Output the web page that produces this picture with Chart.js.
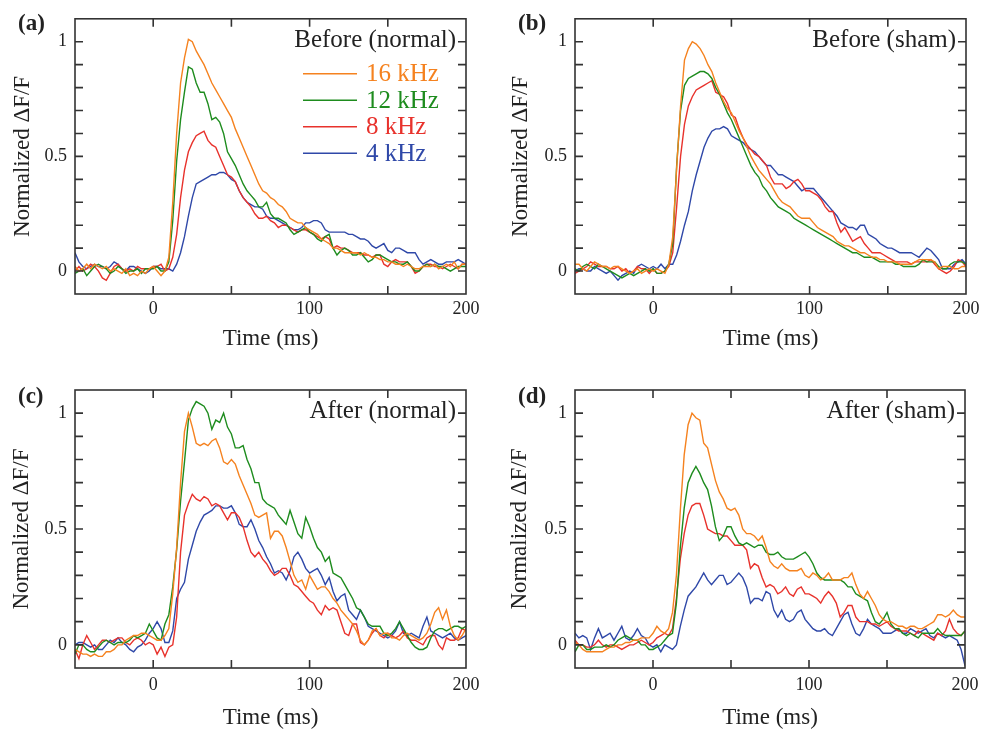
<!DOCTYPE html>
<html><head><meta charset="utf-8">
<script src="https://cdn.jsdelivr.net/npm/chart.js@4.4.0/dist/chart.umd.min.js"></script>
<style>
html,body{margin:0;padding:0;background:#fff;}
#wrap{position:relative;width:990px;height:729px;overflow:hidden;}
canvas{position:absolute;}
</style></head><body>
<div id="wrap">
<canvas id="pa" width="495" height="365" style="left:0;top:0"></canvas>
<canvas id="pb" width="495" height="365" style="left:495px;top:0"></canvas>
<canvas id="pc" width="495" height="364" style="left:0;top:365px"></canvas>
<canvas id="pd" width="495" height="364" style="left:495px;top:365px"></canvas>
</div>
<script>
const times = [-50,-47.5,-45,-42.5,-40,-37.5,-35,-32.5,-30,-27.5,
-25,-22.5,-20,-17.5,-15,-12.5,-10,-7.5,-5,-2.5,
0,2.5,5,7.5,10,12.5,15,17.5,20,22.5,
25,27.5,30,32.5,35,37.5,40,42.5,45,47.5,
50,52.5,55,57.5,60,62.5,65,67.5,70,72.5,
75,77.5,80,82.5,85,87.5,90,92.5,95,97.5,
100,102.5,105,107.5,110,112.5,115,117.5,120,122.5,
125,127.5,130,132.5,135,137.5,140,142.5,145,147.5,
150,152.5,155,157.5,160,162.5,165,167.5,170,172.5,
175,177.5,180,182.5,185,187.5,190,192.5,195,197.5,
200];

const seriesLabels = ['16 kHz','12 kHz','8 kHz','4 kHz'];
const seriesColors = ['#f5821f','#1e8c1e','#e8322c','#2f48a8'];
const panelTags = ['(a)','(b)','(c)','(d)'];
const panelTitles = ['Before (normal)','Before (sham)','After (normal)','After (sham)'];
const xTitle = 'Time (ms)';
const yTitle = 'Normalized \u0394F/F';
const xTickLabels = [0,100,200];
const yTickLabels = [0,0.5,1];
const xTickMarks = [0,50,100,150];
const yTickMarks = [0,0.1,0.2,0.3,0.4,0.5,0.6,0.7,0.8,0.9,1];

// (a) Before (normal)
const a16 = [0.02,0.00,0.01,0.03,0.01,0.03,0.02,0.01,0.02,0.00,
0.01,0.00,-0.01,0.01,-0.02,-0.01,-0.02,0.00,-0.01,0.01,
0.02,0.00,-0.02,0.00,0.06,0.30,0.60,0.82,0.93,1.01,
1.00,0.96,0.93,0.90,0.86,0.82,0.79,0.76,0.73,0.70,
0.67,0.62,0.58,0.54,0.50,0.46,0.42,0.38,0.35,0.34,
0.32,0.31,0.29,0.28,0.26,0.23,0.22,0.21,0.21,0.19,
0.18,0.17,0.16,0.14,0.13,0.12,0.10,0.10,0.09,0.08,
0.08,0.08,0.08,0.07,0.08,0.07,0.06,0.06,0.05,0.05,
0.04,0.04,0.03,0.03,0.02,0.03,0.02,0.01,0.01,0.02,
0.02,0.02,0.03,0.01,0.02,0.03,0.02,0.04,0.01,0.03,
0.03];
const a12 = [-0.01,0.00,0.01,-0.02,0.00,0.02,0.03,0.02,0.01,-0.01,
0.00,0.02,0.01,-0.01,0.00,0.00,0.01,-0.01,0.01,0.01,
0.01,0.02,0.00,0.00,0.04,0.22,0.48,0.66,0.78,0.89,
0.88,0.82,0.78,0.78,0.73,0.66,0.67,0.65,0.60,0.52,
0.49,0.46,0.42,0.38,0.35,0.33,0.31,0.28,0.28,0.30,
0.25,0.23,0.23,0.22,0.21,0.18,0.16,0.17,0.18,0.19,
0.17,0.16,0.14,0.13,0.15,0.16,0.10,0.07,0.09,0.10,
0.09,0.07,0.07,0.08,0.06,0.04,0.05,0.07,0.07,0.06,
0.05,0.04,0.04,0.03,0.03,0.04,0.02,0.00,0.00,0.02,
0.03,0.02,0.03,0.02,0.02,0.01,0.00,0.01,0.02,0.02,
0.02];
const a8 = [0.00,0.02,0.00,0.01,0.03,0.02,0.00,-0.03,-0.04,-0.01,
0.02,0.03,0.01,0.00,0.01,0.00,0.02,0.01,0.01,0.01,
0.02,0.02,0.03,0.00,0.01,0.06,0.16,0.32,0.44,0.52,
0.56,0.59,0.60,0.61,0.57,0.55,0.54,0.50,0.46,0.42,
0.41,0.39,0.35,0.32,0.30,0.28,0.25,0.23,0.23,0.24,
0.22,0.21,0.19,0.20,0.20,0.19,0.18,0.17,0.18,0.18,
0.17,0.16,0.15,0.14,0.15,0.14,0.10,0.11,0.10,0.10,
0.09,0.08,0.08,0.08,0.07,0.07,0.06,0.07,0.07,0.03,
0.02,0.04,0.05,0.04,0.04,0.04,0.02,-0.01,0.00,0.02,
0.03,0.03,0.02,0.02,0.01,0.02,0.03,0.02,0.01,0.03,
0.03];
const a4 = [0.08,0.04,0.02,0.01,0.02,0.03,0.02,0.02,0.01,0.02,
0.04,0.03,0.01,0.00,0.02,0.02,0.01,0.00,-0.01,0.00,
0.02,0.02,0.01,0.01,0.01,0.00,0.03,0.08,0.15,0.24,
0.32,0.38,0.39,0.40,0.41,0.42,0.42,0.43,0.43,0.42,
0.40,0.39,0.35,0.32,0.30,0.29,0.28,0.28,0.27,0.24,
0.23,0.23,0.22,0.21,0.20,0.19,0.18,0.18,0.19,0.21,
0.21,0.22,0.22,0.21,0.18,0.17,0.17,0.17,0.17,0.17,
0.16,0.16,0.15,0.14,0.14,0.13,0.11,0.10,0.11,0.12,
0.09,0.08,0.10,0.10,0.09,0.08,0.08,0.08,0.05,0.03,
0.04,0.05,0.04,0.03,0.03,0.04,0.04,0.04,0.05,0.04,
0.03];

// (b) Before (sham)
const b16 = [0.03,0.03,0.01,0.00,0.02,0.04,0.03,0.02,0.02,0.01,
0.02,0.02,0.01,0.00,-0.01,0.00,0.01,-0.01,0.00,0.01,
0.00,0.01,0.00,-0.01,0.03,0.15,0.45,0.72,0.92,0.97,
1.00,0.99,0.97,0.94,0.90,0.87,0.82,0.78,0.74,0.71,
0.69,0.65,0.61,0.58,0.54,0.50,0.47,0.44,0.42,0.40,
0.38,0.35,0.32,0.30,0.29,0.28,0.26,0.24,0.23,0.23,
0.23,0.21,0.19,0.18,0.17,0.16,0.15,0.13,0.12,0.11,
0.11,0.10,0.09,0.08,0.08,0.07,0.06,0.06,0.05,0.05,
0.04,0.04,0.04,0.03,0.03,0.03,0.03,0.04,0.05,0.05,
0.05,0.05,0.04,0.01,0.02,0.02,0.02,0.01,0.01,0.02,
0.02];
const b12 = [0.01,0.00,0.02,0.03,0.02,0.01,0.03,0.02,0.01,0.00,
-0.01,-0.02,-0.03,-0.02,-0.01,-0.02,-0.01,0.00,0.01,0.00,
0.01,-0.01,-0.01,0.00,0.03,0.12,0.46,0.70,0.81,0.84,
0.85,0.86,0.87,0.87,0.86,0.84,0.80,0.77,0.73,0.69,
0.66,0.62,0.58,0.54,0.50,0.46,0.43,0.41,0.37,0.35,
0.32,0.30,0.28,0.27,0.26,0.25,0.23,0.22,0.21,0.20,
0.19,0.18,0.17,0.16,0.15,0.14,0.13,0.12,0.11,0.10,
0.09,0.08,0.08,0.07,0.06,0.06,0.06,0.05,0.04,0.04,
0.04,0.04,0.03,0.03,0.02,0.02,0.02,0.02,0.03,0.05,
0.04,0.04,0.04,0.02,0.01,0.01,0.03,0.04,0.04,0.04,
0.03];
const b8 = [-0.01,0.00,0.01,0.02,0.04,0.03,0.02,0.02,0.02,0.01,
0.01,0.02,0.00,0.01,-0.01,0.00,0.02,0.01,0.01,-0.01,
0.01,-0.01,-0.01,0.00,0.02,0.08,0.28,0.50,0.64,0.72,
0.76,0.79,0.80,0.81,0.82,0.83,0.78,0.77,0.76,0.73,
0.68,0.67,0.62,0.58,0.55,0.53,0.51,0.50,0.48,0.46,
0.41,0.38,0.38,0.38,0.36,0.37,0.39,0.40,0.38,0.35,
0.35,0.34,0.33,0.31,0.28,0.26,0.26,0.21,0.17,0.19,
0.16,0.13,0.14,0.15,0.12,0.10,0.08,0.08,0.08,0.07,
0.06,0.05,0.04,0.04,0.04,0.04,0.03,0.04,0.04,0.04,
0.04,0.05,0.03,0.01,0.00,-0.01,0.00,0.02,0.05,0.04,
0.02];
const b4 = [0.00,0.01,0.01,0.00,0.00,0.02,0.01,0.00,-0.01,0.00,
-0.02,-0.04,-0.02,-0.01,0.00,-0.01,0.02,0.03,0.02,0.01,
0.02,0.01,0.03,0.01,0.03,0.03,0.07,0.13,0.20,0.26,
0.35,0.42,0.48,0.54,0.58,0.61,0.62,0.62,0.63,0.62,
0.59,0.58,0.57,0.56,0.54,0.53,0.52,0.50,0.48,0.46,
0.46,0.44,0.42,0.42,0.41,0.40,0.39,0.37,0.35,0.36,
0.36,0.36,0.34,0.32,0.30,0.28,0.26,0.24,0.21,0.20,
0.19,0.19,0.18,0.20,0.20,0.16,0.15,0.14,0.12,0.11,
0.10,0.10,0.09,0.08,0.08,0.08,0.08,0.07,0.06,0.08,
0.10,0.09,0.07,0.05,0.01,0.01,0.01,0.03,0.04,0.05,
0.03];

// (c) After (normal)
const c16 = [-0.02,-0.03,-0.04,-0.04,-0.05,-0.04,-0.05,-0.05,-0.03,-0.03,
-0.02,0.00,0.00,0.02,0.03,0.04,0.04,0.05,0.05,0.04,
0.03,0.02,0.02,0.04,0.07,0.22,0.42,0.70,0.92,1.00,
0.94,0.87,0.86,0.87,0.86,0.88,0.89,0.85,0.79,0.78,
0.80,0.78,0.73,0.69,0.65,0.61,0.56,0.55,0.56,0.57,
0.46,0.49,0.49,0.47,0.42,0.36,0.30,0.27,0.28,0.24,
0.30,0.27,0.24,0.25,0.25,0.23,0.20,0.18,0.15,0.13,
0.11,0.09,0.06,0.02,0.00,0.02,0.06,0.07,0.04,0.05,
0.05,0.03,0.03,0.02,0.04,0.05,0.04,0.03,0.02,0.03,
0.05,0.09,0.14,0.16,0.11,0.15,0.08,0.04,0.02,0.04,
0.07];
const c12 = [-0.04,0.00,0.00,-0.02,-0.03,-0.03,-0.01,0.01,0.02,0.01,
0.00,0.01,0.01,0.01,0.02,0.04,0.03,0.04,0.05,0.09,
0.06,0.03,0.02,0.09,0.13,0.25,0.41,0.62,0.79,0.97,
1.02,1.05,1.04,1.03,1.00,0.93,0.97,0.96,1.00,0.94,
0.91,0.85,0.85,0.86,0.80,0.76,0.70,0.70,0.63,0.61,
0.60,0.59,0.56,0.54,0.52,0.58,0.53,0.48,0.46,0.55,
0.51,0.46,0.42,0.40,0.36,0.38,0.31,0.30,0.29,0.26,
0.23,0.20,0.16,0.15,0.12,0.09,0.08,0.08,0.08,0.05,
0.04,0.05,0.07,0.10,0.07,0.04,0.01,-0.01,-0.02,-0.02,
-0.01,0.03,0.06,0.07,0.07,0.06,0.07,0.08,0.08,0.07,
0.08];
const c8 = [-0.02,-0.06,0.00,0.04,0.01,-0.02,0.00,0.02,0.02,0.01,
0.02,0.03,0.03,0.01,0.00,0.02,0.03,0.02,0.00,0.01,
0.00,-0.04,-0.01,-0.05,-0.01,0.00,0.12,0.40,0.56,0.61,
0.65,0.63,0.62,0.64,0.63,0.60,0.61,0.60,0.57,0.54,
0.57,0.57,0.55,0.51,0.45,0.40,0.38,0.40,0.37,0.35,
0.32,0.30,0.31,0.33,0.33,0.30,0.26,0.25,0.23,0.21,
0.19,0.18,0.15,0.13,0.17,0.15,0.16,0.15,0.10,0.05,
0.04,0.09,0.09,0.01,0.00,0.02,0.05,0.07,0.04,0.03,
0.05,0.04,0.03,0.04,0.06,0.03,0.02,0.02,0.01,0.00,
0.03,0.04,0.04,0.00,-0.02,0.03,0.02,0.02,0.03,0.07,
0.06];
const c4 = [0.00,0.01,0.01,0.00,-0.01,0.00,-0.02,-0.02,0.00,0.02,
0.01,0.03,0.01,0.00,-0.02,-0.03,-0.01,0.00,0.02,0.05,
0.07,0.10,0.07,0.01,0.01,0.06,0.20,0.24,0.27,0.37,
0.43,0.49,0.53,0.56,0.57,0.58,0.60,0.60,0.59,0.59,
0.60,0.57,0.52,0.51,0.51,0.54,0.50,0.45,0.42,0.38,
0.35,0.31,0.32,0.31,0.28,0.32,0.38,0.40,0.37,0.33,
0.31,0.32,0.33,0.30,0.26,0.29,0.23,0.19,0.21,0.22,
0.15,0.13,0.11,0.15,0.12,0.08,0.07,0.06,0.05,0.04,
0.03,0.04,0.06,0.10,0.05,0.04,0.05,0.04,0.03,0.08,
0.12,0.06,0.05,0.04,0.03,0.04,0.05,0.03,0.02,0.03,
0.04];

// (d) After (sham)
const d16 = [0.01,0.00,-0.02,-0.03,-0.03,-0.03,-0.03,-0.03,-0.02,-0.01,
-0.01,0.00,0.00,0.01,0.01,0.02,0.02,0.03,0.03,0.03,
0.05,0.08,0.06,0.05,0.07,0.14,0.30,0.58,0.82,0.95,
1.00,0.98,0.97,0.87,0.85,0.78,0.71,0.66,0.63,0.59,
0.58,0.59,0.56,0.50,0.48,0.48,0.47,0.45,0.47,0.42,
0.36,0.34,0.33,0.35,0.33,0.32,0.32,0.32,0.33,0.30,
0.29,0.31,0.30,0.28,0.29,0.31,0.28,0.28,0.28,0.29,
0.29,0.31,0.26,0.22,0.20,0.23,0.20,0.17,0.13,0.11,
0.10,0.10,0.09,0.08,0.08,0.07,0.08,0.08,0.07,0.07,
0.08,0.09,0.10,0.13,0.13,0.12,0.13,0.15,0.13,0.12,
0.12];
const d12 = [-0.03,0.00,0.00,-0.02,-0.02,-0.01,-0.01,-0.01,0.00,-0.01,
0.00,0.02,0.03,0.04,0.03,0.02,0.02,0.00,0.00,-0.02,
-0.02,-0.01,0.00,0.02,0.04,0.05,0.18,0.42,0.59,0.70,
0.74,0.77,0.74,0.70,0.67,0.60,0.51,0.45,0.47,0.51,
0.51,0.47,0.44,0.43,0.44,0.43,0.42,0.43,0.43,0.40,
0.39,0.39,0.40,0.38,0.37,0.37,0.37,0.38,0.39,0.40,
0.38,0.35,0.31,0.29,0.28,0.28,0.28,0.28,0.28,0.27,
0.25,0.25,0.22,0.21,0.20,0.19,0.14,0.10,0.09,0.11,
0.14,0.09,0.07,0.07,0.05,0.04,0.05,0.04,0.03,0.05,
0.05,0.05,0.05,0.07,0.05,0.04,0.04,0.04,0.04,0.04,
0.06];
const d8 = [0.02,0.00,0.00,-0.01,-0.01,0.00,0.02,0.00,-0.01,0.00,
0.00,-0.01,-0.02,-0.01,0.00,0.00,0.01,0.02,0.01,0.00,
0.01,0.03,0.04,0.05,0.04,0.07,0.20,0.37,0.48,0.56,
0.60,0.61,0.61,0.56,0.50,0.49,0.48,0.48,0.47,0.47,
0.45,0.43,0.43,0.43,0.41,0.33,0.35,0.34,0.29,0.25,
0.26,0.25,0.22,0.23,0.25,0.22,0.21,0.24,0.25,0.22,
0.22,0.21,0.20,0.18,0.21,0.23,0.21,0.18,0.12,0.14,
0.17,0.17,0.12,0.10,0.10,0.10,0.09,0.09,0.08,0.09,
0.10,0.08,0.07,0.06,0.06,0.06,0.05,0.04,0.06,0.05,
0.04,0.03,0.02,0.05,0.04,0.06,0.11,0.07,0.05,0.04,
0.06];
const d4 = [0.05,0.03,0.04,0.03,-0.02,0.03,0.07,0.03,0.04,0.05,
0.02,0.05,0.08,0.03,0.02,0.04,0.07,0.04,0.03,0.00,
-0.01,0.00,-0.03,0.00,-0.01,-0.02,0.00,0.08,0.15,0.21,
0.23,0.25,0.28,0.31,0.28,0.26,0.28,0.30,0.30,0.26,
0.27,0.29,0.31,0.29,0.25,0.18,0.20,0.20,0.19,0.23,
0.22,0.15,0.12,0.15,0.11,0.10,0.11,0.14,0.15,0.11,
0.09,0.07,0.06,0.06,0.07,0.05,0.04,0.07,0.10,0.13,
0.14,0.09,0.05,0.04,0.07,0.11,0.09,0.08,0.07,0.05,
0.05,0.05,0.06,0.07,0.05,0.05,0.07,0.06,0.05,0.06,
0.07,0.04,0.03,0.05,0.04,0.03,0.04,0.03,0.02,-0.02,
-0.09];

const FONT = '"Liberation Serif", "Times New Roman", Times, serif';
const INK = '#222';
Chart.defaults.font.family = FONT;

const framePlugin = {
  id: 'frame',
  afterDatasetsDraw(chart, args, o) {
    const ctx = chart.ctx;
    const {left, right, top, bottom} = chart.chartArea;
    const xs = chart.scales.x, ys = chart.scales.y;
    ctx.save();
    ctx.strokeStyle = '#333';
    ctx.lineWidth = 1.6;
    ctx.strokeRect(left, top, right - left, bottom - top);
    const L = 8;
    ctx.beginPath();
    xTickMarks.forEach(v => {
      const px = xs.getPixelForValue(v);
      ctx.moveTo(px, bottom); ctx.lineTo(px, bottom - L);
      ctx.moveTo(px, top); ctx.lineTo(px, top + L);
    });
    yTickMarks.forEach(v => {
      const py = ys.getPixelForValue(v);
      ctx.moveTo(left, py); ctx.lineTo(left + L, py);
      ctx.moveTo(right, py); ctx.lineTo(right - L, py);
    });
    ctx.stroke();
    ctx.fillStyle = INK;
    ctx.textBaseline = 'middle';
    ctx.textAlign = 'left';
    ctx.font = 'bold 23px ' + FONT;
    ctx.fillText(o.tag, o.tagX, o.tagY);
    ctx.font = '25px ' + FONT;
    ctx.textAlign = 'right';
    ctx.fillText(o.title, right - 10, ys.getPixelForValue(1) - 1.5);
    if (o.legend) {
      ctx.lineWidth = 1.4;
      ctx.textAlign = 'left';
      chart.data.datasets.forEach((ds, k) => {
        const yy = top + 55 + k * 26.5;
        ctx.strokeStyle = ds.borderColor;
        ctx.beginPath();
        ctx.moveTo(right - 163, yy); ctx.lineTo(right - 109, yy);
        ctx.stroke();
        ctx.fillStyle = ds.borderColor;
        ctx.fillText(ds.label, right - 100, yy + 1);
      });
    }
    ctx.restore();
  }
};

function makePanel(id, idx, series, g) {
  const cv = document.getElementById(id);
  const H = cv.height, W = cv.width;
  return new Chart(cv, {
    type: 'line',
    data: {
      datasets: series.map((vals, k) => ({
        label: seriesLabels[k],
        data: times.map((t, i) => ({x: t, y: vals[i]})),
        borderColor: seriesColors[k],
        borderWidth: 1.4,
        pointRadius: 0,
        tension: 0,
        fill: false
      }))
    },
    options: {
      responsive: false,
      animation: false,
      devicePixelRatio: 1,
      layout: {padding: {left: 0, top: g.top, right: W - g.right, bottom: 0}},
      plugins: {
        legend: {display: false},
        tooltip: {enabled: false},
        frame: {tag: panelTags[idx], title: panelTitles[idx], legend: idx === 0, tagX: g.tagX, tagY: g.tagY}
      },
      scales: {
        x: {
          type: 'linear', min: -50, max: 200,
          grid: {display: false, drawTicks: false, tickLength: 0}, border: {display: false},
          afterBuildTicks: s => { s.ticks = xTickLabels.map(v => ({value: v})); },
          ticks: {padding: g.xTickPad, color: INK, font: {size: 18}, maxRotation: 0, autoSkip: false, callback: v => String(v)},
          title: {display: true, text: xTitle, color: INK, font: {size: 23, lineHeight: 1}, padding: {top: 0, bottom: g.xTitlePad}},
          afterFit: s => { s.height = H - g.bottom; }
        },
        y: {
          type: 'linear', min: -0.1, max: 1.1,
          grid: {display: false, drawTicks: false, tickLength: 0}, border: {display: false},
          afterBuildTicks: s => { s.ticks = yTickLabels.map(v => ({value: v})); },
          ticks: {padding: 8, color: INK, font: {size: 18}, autoSkip: false, callback: v => String(v)},
          title: {display: true, text: yTitle, color: INK, font: {size: 23, lineHeight: 1}, padding: {top: g.yTitlePad, bottom: 0}},
          afterFit: s => { s.width = g.left; }
        }
      }
    },
    plugins: [framePlugin]
  });
}

makePanel('pa', 0, [a16, a12, a8, a4], {left: 75, right: 466, top: 14, bottom: 294, xTickPad: 4, xTitlePad: 14.5, yTitlePad: 11, tagX: 18, tagY: 24});
makePanel('pb', 1, [b16, b12, b8, b4], {left: 80, right: 471, top: 14, bottom: 294, xTickPad: 4, xTitlePad: 14.5, yTitlePad: 14.5, tagX: 23, tagY: 24});
makePanel('pc', 2, [c16, c12, c8, c4], {left: 75, right: 466, top: 25, bottom: 303, xTickPad: 6, xTitlePad: 0, yTitlePad: 10, tagX: 18, tagY: 32});
makePanel('pd', 3, [d16, d12, d8, d4], {left: 80, right: 470, top: 25, bottom: 303, xTickPad: 6, xTitlePad: 0, yTitlePad: 13.5, tagX: 23, tagY: 32});
</script>
</body></html>
